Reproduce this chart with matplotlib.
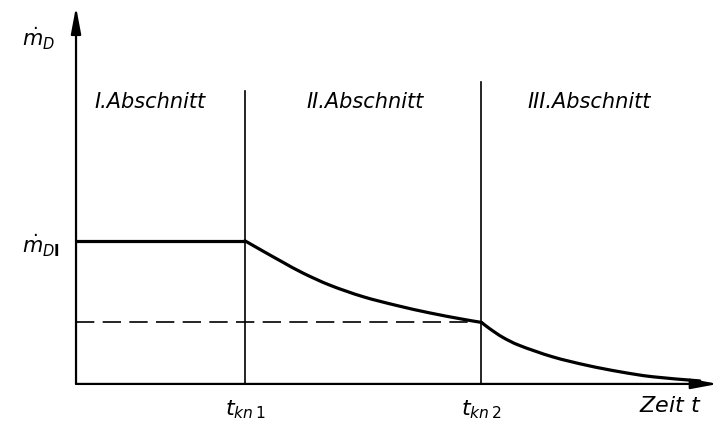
import numpy as np
import matplotlib.pyplot as plt
from matplotlib.path import Path
from matplotlib.patches import PathPatch

plt.rcParams['font.family'] = ['DejaVu Sans']
plt.rcParams['mathtext.fontset'] = 'dejavusans'

# characteristic times and flow levels (normalised)
t_kn1 = 1.0
t_kn2 = 2.4
m_DI = 1.0
m_kn2 = 0.43

# section I: constant drying rate
t_sec1 = [0.0, 1.0]
m_sec1 = [1.0, 1.0]

# section II: falling rate
t_sec2 = [1.0, 1.107, 1.225, 1.343, 1.503, 1.698, 1.899, 2.095, 2.290, 2.4]
m_sec2 = [1.0, 0.928, 0.850, 0.775, 0.690, 0.610, 0.548, 0.496, 0.452, 0.43]

# section III: second falling rate
t_sec3 = [2.4, 2.450, 2.527, 2.627, 2.822, 3.024, 3.219, 3.414, 3.692]
m_sec3 = [0.43, 0.385, 0.325, 0.268, 0.189, 0.130, 0.085, 0.050, 0.021]

section_names = ['I.Abschnitt', 'II.Abschnitt', 'III.Abschnitt']
section_label_t = [0.44, 1.71, 3.04]


def smooth_path(xs, ys):
    # Catmull-Rom through the points, drawn as cubic Bezier segments
    p = np.column_stack([xs, ys]).astype(float)
    ext = np.vstack([2 * p[0] - p[1], p, 2 * p[-1] - p[-2]])
    verts = [p[0]]
    codes = [Path.MOVETO]
    for i in range(1, len(ext) - 2):
        p0, p1, p2, p3 = ext[i - 1], ext[i], ext[i + 1], ext[i + 2]
        verts += [p1 + (p2 - p0) / 6, p2 - (p3 - p1) / 6, p2]
        codes += [Path.CURVE4] * 3
    return Path(verts, codes)


fig = plt.figure(figsize=(7.18, 4.27), dpi=100)
ax = fig.add_axes([0, 0, 1, 1])
ax.set_xlim(-0.45, 3.80)
ax.set_ylim(-0.294, 2.69)
ax.axis('off')

# axes with arrows
arrow = dict(arrowstyle='-|>,head_length=1.6,head_width=0.3', color='black',
             lw=1.6, shrinkA=0, shrinkB=0)
ax.annotate('', xy=(0, 2.636), xytext=(0, 0), arrowprops=arrow)
ax.annotate('', xy=(3.80, 0), xytext=(0, 0), arrowprops=arrow)

# section boundaries
ax.plot([t_kn1, t_kn1], [0, 2.05], color='black', lw=1.2)
ax.plot([t_kn2, t_kn2], [0, 2.11], color='black', lw=1.2)

# dashed reference level
ax.plot([0, t_kn2], [m_kn2, m_kn2], color='black', lw=1.2, dashes=(11, 5))

# drying rate curve
curve = dict(fill=False, edgecolor='black', lw=2.3, joinstyle='round', capstyle='round')
ax.plot(t_sec1, m_sec1, color='black', lw=2.3, solid_capstyle='round')
ax.add_patch(PathPatch(smooth_path(t_sec2, m_sec2), **curve))
ax.add_patch(PathPatch(smooth_path(t_sec3, m_sec3), **curve))

# labels
for name, tx in zip(section_names, section_label_t):
    ax.text(tx, 1.98, name, fontsize=15, style='italic', ha='center', va='center')

ax.text(-0.22, 2.42, r'$\dot{m}_D$', fontsize=15, ha='center', va='center')
ax.text(-0.21, 0.97, r'$\dot{m}_{D\mathbf{I}}$', fontsize=15, ha='center', va='center')
ax.text(t_kn1, -0.17, r'$t_{kn\,1}$', fontsize=16, ha='center', va='center')
ax.text(t_kn2, -0.17, r'$t_{kn\,2}$', fontsize=16, ha='center', va='center')
ax.text(3.52, -0.15, 'Zeit $t$', fontsize=16, style='italic', ha='center', va='center')

fig.savefig('out.png', dpi=100, facecolor='white')
